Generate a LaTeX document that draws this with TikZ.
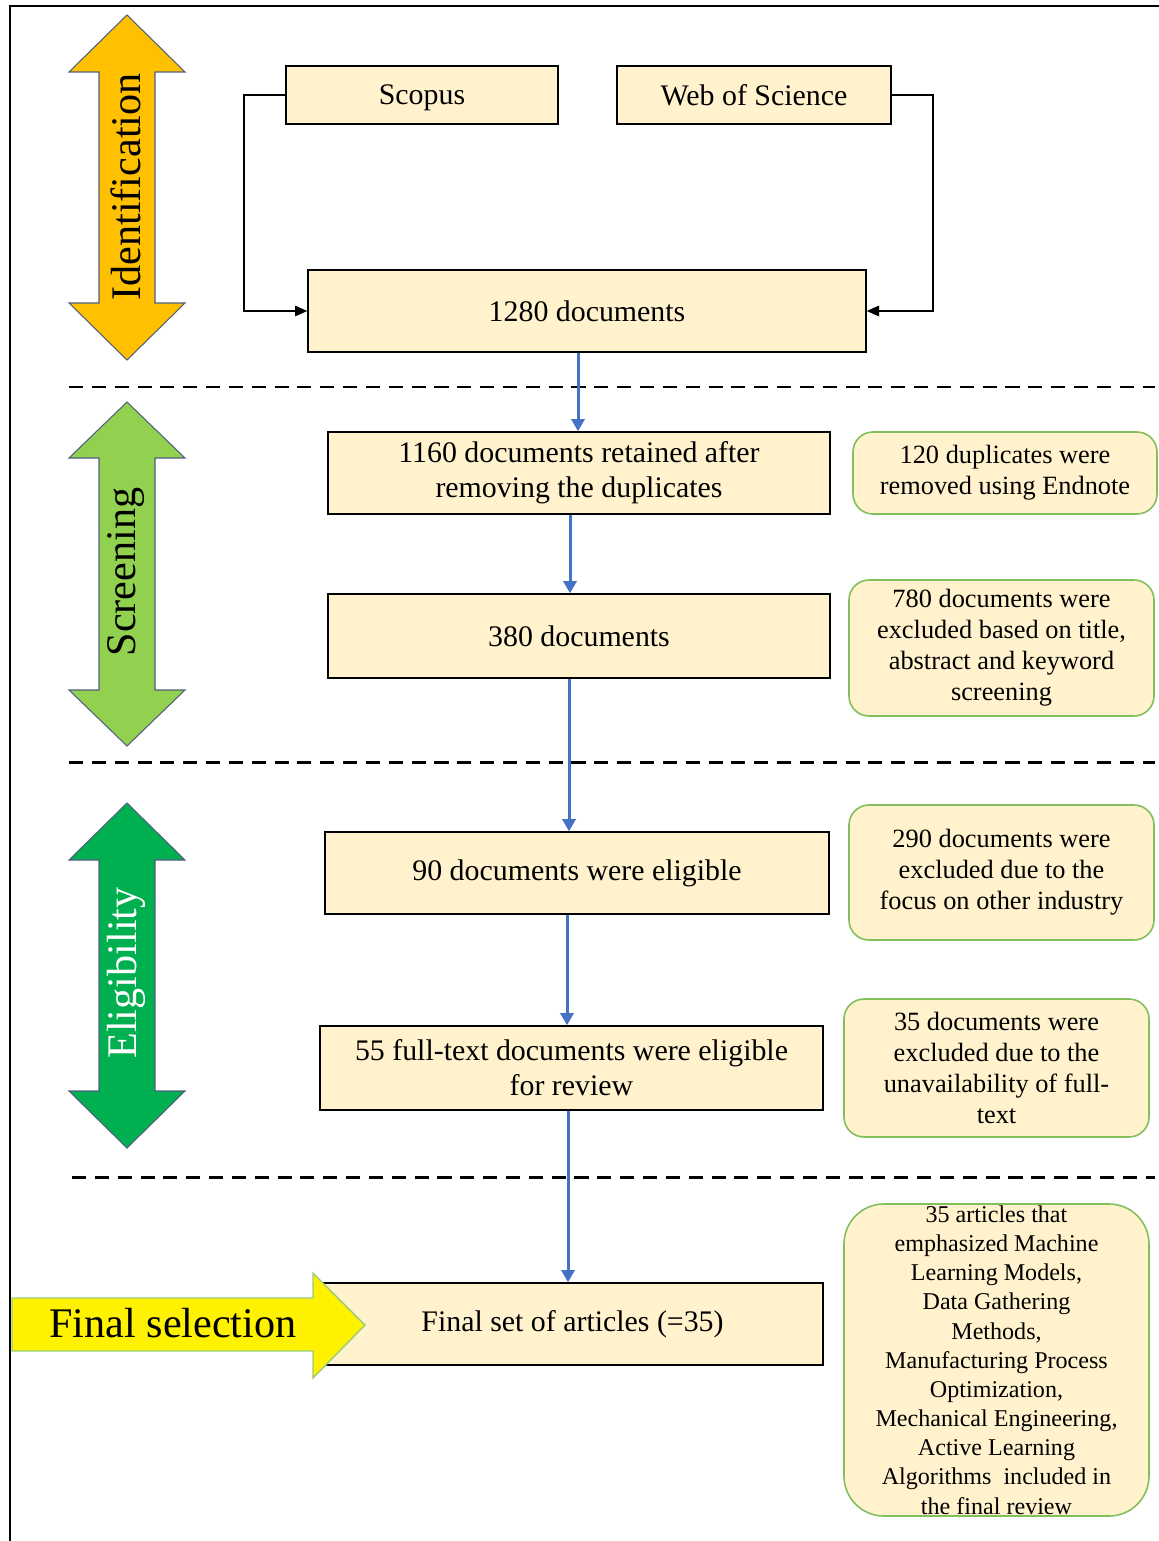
\documentclass[tikz,border=0pt]{standalone}
\usepackage{fontspec}
\setmainfont{Liberation Serif}
\usetikzlibrary{arrows.meta}
\definecolor{boxfill}{HTML}{FFF2CC}
\definecolor{rgreen}{RGB}{130,190,90}
\definecolor{idorange}{HTML}{FFC000}
\definecolor{scrgreen}{HTML}{92D050}
\definecolor{elgreen}{HTML}{00B050}
\definecolor{arrowline}{RGB}{80,95,125}
\definecolor{flowblue}{HTML}{4472C4}
\tikzset{
  mainbox/.style={draw=black, line width=0.8pt, fill=boxfill, inner sep=0pt, align=center,
    font=\fontsize{17}{20}\selectfont},
  sidebox/.style={draw=rgreen, line width=0.9pt, fill=boxfill, inner sep=0pt, align=center,
    rounded corners=0.4cm, font=\fontsize{15}{17.6}\selectfont},
  phasearrow/.style={draw=arrowline, line width=0.6pt},
  phasetext/.style={rotate=90, font=\fontsize{24}{28}\selectfont, inner sep=0pt},
  blueflow/.style={draw=flowblue, line width=1.7pt, -{Triangle[width=7.5pt,length=7pt]}},
  blackflow/.style={draw=black, line width=0.7pt, -{Triangle[width=6pt,length=7pt]}},
  sepline/.style={draw=black, line width=1.7pt, dash pattern=on 8pt off 5pt},
}
\begin{document}
\begin{tikzpicture}[x=0.02cm, y=-0.02cm]
\useasboundingbox (0,0) rectangle (1159,1541);
% frame
\draw[line width=1.1pt] (10,1541) -- (10,6) -- (1159,6);
% separators
\draw[sepline] (69,387) -- (1155,387);
\draw[sepline] (69,762) -- (1155,762);
\draw[sepline] (72,1177) -- (1155,1177);
% phase arrows
\draw[phasearrow, fill=idorange] (127,15) -- (185,72) -- (155,72) -- (155,303) -- (185,303) -- (127,360) -- (69,303) -- (99,303) -- (99,72) -- (69,72) -- cycle;
\node[phasetext] (tid) at (126,187) {Identification};
\draw[phasearrow, fill=scrgreen] (127,402) -- (185,458) -- (155,458) -- (155,690) -- (185,690) -- (127,746) -- (69,690) -- (99,690) -- (99,458) -- (69,458) -- cycle;
\node[phasetext] (tscr) at (126,572) {Screening};
\draw[phasearrow, fill=elgreen] (127,803) -- (185,860) -- (155,860) -- (155,1091) -- (185,1091) -- (127,1148) -- (69,1091) -- (99,1091) -- (99,860) -- (69,860) -- cycle;
\node[phasetext, text=white] (tel) at (126,973) {Eligibility};
% main boxes
\node[mainbox, text depth=0pt, minimum width=272*0.02cm, minimum height=58*0.02cm] (scopus) at (422,95) {Scopus};
\node[mainbox, minimum width=274*0.02cm, minimum height=58*0.02cm] (wos) at (754,95) {Web of Science};
\node[mainbox, minimum width=558*0.02cm, minimum height=82*0.02cm] (d1280) at (587,311) {1280 documents};
\node[mainbox, minimum width=502*0.02cm, minimum height=82*0.02cm] (d1160) at (579,473) {1160 documents retained after\\removing the duplicates};
\node[mainbox, minimum width=502*0.02cm, minimum height=84*0.02cm] (d380) at (579,636) {380 documents};
\node[mainbox, minimum width=504*0.02cm, minimum height=82*0.02cm] (d90) at (577,873) {90 documents were eligible};
\node[mainbox, minimum width=503*0.02cm, minimum height=84*0.02cm] (d55) at (571.5,1068) {55 full-text documents were eligible\\for review};
\node[mainbox, minimum width=501*0.02cm, minimum height=82*0.02cm] (dfinal) at (572.5,1324) {Final set of articles (=35)};
% final selection arrow
\draw[draw=rgreen!80, line width=0.8pt, fill=yellow] (12,1298) -- (313,1298) -- (313,1273) -- (365,1325) -- (313,1378) -- (313,1351) -- (12,1351) -- cycle;
\node[font=\fontsize{24}{28}\selectfont, inner sep=0pt] (tfinal) at (173,1323) {Final selection};
% side boxes
\node[sidebox, minimum width=304*0.02cm, minimum height=82*0.02cm] (r120) at (1005,473) {120 duplicates were\\removed using Endnote};
\node[sidebox, minimum width=305*0.02cm, minimum height=136*0.02cm] (r780) at (1001.5,648) {780 documents were\\excluded based on title,\\abstract and keyword\\screening};
\node[sidebox, minimum width=305*0.02cm, minimum height=135*0.02cm] (r290) at (1001.5,872.5) {290 documents were\\excluded due to the\\focus on other industry};
\node[sidebox, minimum width=305*0.02cm, minimum height=138*0.02cm] (r35) at (996.5,1068) {35 documents were\\excluded due to the\\unavailability of full-\\text};
\node[sidebox, rounded corners=0.8cm, minimum width=305*0.02cm, minimum height=312*0.02cm, font=\fontsize{13.7}{16.6}\selectfont] (rfinal) at (996.5,1360) {35 articles that\\emphasized Machine\\Learning Models,\\Data Gathering\\Methods,\\Manufacturing Process\\Optimization,\\Mechanical Engineering,\\Active Learning\\Algorithms\ \ included in\\the final review};
% black connectors
\coordinate (lc) at (244,0);
\coordinate (rc) at (933,0);
\draw[blackflow] (scopus.west) -- (scopus.west -| lc) |- (d1280.west);
\draw[blackflow] (wos.east) -- (wos.east -| rc) |- (d1280.east);
% blue connectors
\coordinate (c1) at (578,0);
\coordinate (c2) at (570,0);
\coordinate (c3) at (569,0);
\coordinate (c4) at (567,0);
\coordinate (c5) at (568,0);
\draw[blueflow] (d1280.south -| c1) -- (d1160.north -| c1);
\draw[blueflow] (d1160.south -| c2) -- (d380.north -| c2);
\draw[blueflow] (d380.south -| c3) -- (d90.north -| c3);
\draw[blueflow] (d90.south -| c4) -- (d55.north -| c4);
\draw[blueflow] (d55.south -| c5) -- (dfinal.north -| c5);
\end{tikzpicture}
\end{document}
